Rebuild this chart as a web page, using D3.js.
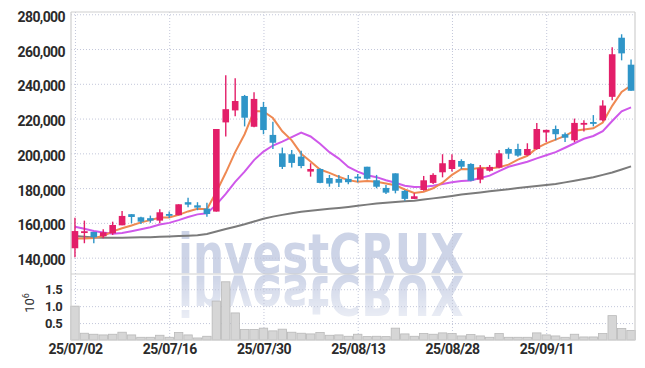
<!DOCTYPE html>
<html><head><meta charset="utf-8">
<script src="https://cdn.jsdelivr.net/npm/d3@7"></script>
<style>
html,body{margin:0;padding:0;background:#fff;}
svg{display:block;}
.lbl{font-family:Roboto,"Noto Sans",sans-serif;font-weight:700;fill:#2b2b2b;}
</style>
</head><body>
<script>
// ---- data ----
const dates = ["25/07/02","25/07/03","25/07/04","25/07/07","25/07/08","25/07/09","25/07/10","25/07/11","25/07/14","25/07/15",
"25/07/16","25/07/17","25/07/18","25/07/21","25/07/22","25/07/23","25/07/24","25/07/25","25/07/28","25/07/29",
"25/07/30","25/07/31","25/08/01","25/08/04","25/08/05","25/08/06","25/08/07","25/08/08","25/08/11","25/08/12",
"25/08/13","25/08/14","25/08/18","25/08/19","25/08/20","25/08/21","25/08/22","25/08/25","25/08/26","25/08/27",
"25/08/28","25/08/29","25/09/01","25/09/02","25/09/03","25/09/04","25/09/05","25/09/08","25/09/09","25/09/10",
"25/09/11","25/09/12","25/09/15","25/09/16","25/09/17","25/09/18","25/09/19","25/09/22","25/09/23","25/09/24"];
const opens  = [145400,154600,154800,152300,154000,158600,165000,163200,162700,161300,
165100,164400,171900,170100,168200,166500,217800,224700,233000,215300,
226700,210600,200000,199500,198100,189500,191000,185800,185300,185300,
186600,192300,184500,180100,188500,178400,173800,178900,183000,189100,
191000,195600,193900,184900,190000,191800,202500,202500,199000,202500,
212000,214000,211000,207500,216500,218000,219000,232500,266500,251000];
const highs  = [163000,161300,154800,156300,160700,166900,165000,163600,164200,167800,
166500,170700,174500,171900,171600,214000,244900,243200,233600,235100,
229600,218200,203300,201900,201500,194300,191400,187600,187600,187600,
188100,192300,187600,181800,188500,178900,177000,187000,188500,199500,
199500,196600,194300,193300,193300,201900,203300,205500,205800,217500,
213500,216000,212000,220000,219000,222000,230500,261000,268500,254000];
const lows   = [140200,148300,148300,151200,153100,158600,159800,159400,160100,159800,
162800,164400,169000,167300,163600,166500,209700,221300,215500,215000,
211000,202500,191000,191800,191400,186600,182800,180800,180700,182200,
183400,185000,179900,176600,177000,172800,173800,178500,182400,186200,
189500,191000,184000,182800,189500,191400,196800,198100,198700,202000,
206500,207500,206500,206500,212500,215500,218500,230500,253500,236000];
const closes = [155300,155200,151700,154600,158800,164000,163400,160700,161300,166100,
164200,170700,170500,168800,165100,214000,225400,230100,220500,231300,
213400,206100,192200,194500,192700,191000,183000,182600,183100,183400,
186000,185400,180800,177400,178500,173800,175300,184500,187600,194300,
196200,192300,184300,191400,192200,200000,199800,198700,202500,214000,
213500,211000,209000,217500,217500,217000,227500,257000,257500,236000];
const ma5  = [151000,151000,151300,152500,155100,156900,158500,160300,161600,163100,
163100,164600,166600,168100,167900,177800,188800,200700,211000,224300,
224100,220300,212700,207500,199800,195300,190700,188800,186500,184600,
183600,184100,183700,182600,181600,179200,177200,177900,179900,183100,
187600,191000,190900,191700,191300,192000,193500,196400,198600,203000,
205700,207900,210000,213000,213700,214400,217700,227300,235300,239000];
const ma10 = [157800,156600,155300,154500,153700,154200,155200,156300,157500,159100,
160000,161600,163400,164900,165500,170500,176700,183600,189500,196100,
201000,204500,206700,209300,212000,209700,205500,200700,197000,192200,
189500,187400,186300,184500,183100,181400,180600,180800,181300,182400,
183400,184100,184400,185800,187200,189800,192300,193700,195200,197100,
198900,200700,203200,205800,208400,210000,212800,218600,224200,226400];
const ma60 = [152500,152000,151600,151500,151500,151500,151600,151700,151800,152000,
152200,152400,152600,152900,153600,155000,156500,157800,159200,160800,
162400,163600,164600,165500,166400,167000,167600,168100,168600,169200,
169800,170500,171100,171600,172000,172400,172800,173400,174100,174800,
175500,176300,176900,177500,178200,178800,179400,180000,180600,181200,
181800,182400,183300,184200,185200,186200,187600,189000,190700,192500];
const volumes = [1000000,200000,170000,150000,170000,230000,150000,80000,80000,140000,
80000,220000,150000,60000,110000,1150000,1720000,800000,310000,310000,
350000,270000,320000,230000,200000,180000,220000,140000,150000,110000,
170000,100000,110000,100000,350000,180000,110000,190000,170000,210000,
190000,120000,160000,120000,80000,190000,80000,80000,80000,210000,
150000,120000,80000,170000,90000,90000,190000,720000,340000,280000];
const priceTicks = [140000,160000,180000,200000,220000,240000,260000,280000];
const volumeTicks = [500000,1000000,1500000];
const dateTickIdx = [0,10,20,30,40,50];

// ---- layout ----
const W=645,H=368, L=71, R=635, T=12, SEP=274, B=340;
const UP="#e31e69", DOWN="#2f95c8";
const svg=d3.select("body").append("svg").attr("width",W).attr("height",H);
const idx=d3.range(dates.length);
const x=d3.scaleLinear().domain([-0.42, dates.length-1+0.42]).range([L,R]);
const yP=d3.scaleLinear().domain([130600,281300]).range([SEP,T]);
const yV=d3.scaleLinear().domain([0,1950000]).range([B,SEP]);
const step=x(1)-x(0);

// watermark with reflection
const defs=svg.append("defs");
const g1=defs.append("linearGradient").attr("id","fadeGrad").attr("gradientUnits","userSpaceOnUse")
  .attr("x1",0).attr("y1",SEP).attr("x2",0).attr("y2",SEP+44);
g1.append("stop").attr("offset","0%").attr("stop-color","#ffffff");
g1.append("stop").attr("offset","100%").attr("stop-color","#6a6a6a");
defs.append("mask").attr("id","fadeMask").attr("maskUnits","userSpaceOnUse")
  .attr("x",0).attr("y",SEP).attr("width",W).attr("height",60)
  .append("rect").attr("x",0).attr("y",SEP).attr("width",W).attr("height",60).attr("fill","url(#fadeGrad)");
const wm=svg.append("g");
wm.append("text").attr("id","wmText").attr("x",178).attr("y",273).attr("textLength",286).attr("lengthAdjust","spacingAndGlyphs")
  .style("font-family","'DejaVu Sans',sans-serif").style("font-weight",700).style("font-size","56px")
  .attr("fill","#cdd4e7").text("investCRUX");
wm.append("g").attr("mask","url(#fadeMask)")
  .append("use").attr("href","#wmText").attr("transform",`translate(0,${2*SEP+1}) scale(1,-1)`);

// grid + axes
const gridColor="#c3c7da";
const axP=svg.append("g").attr("transform",`translate(${L},0)`)
  .call(d3.axisLeft(yP).tickValues(priceTicks).tickFormat(d3.format(",")).tickSize(-(R-L)).tickPadding(6));
const axV=svg.append("g").attr("transform",`translate(${L},0)`)
  .call(d3.axisLeft(yV).tickValues(volumeTicks).tickFormat(d=>(d/1e6).toFixed(1)).tickSize(-(R-L)).tickPadding(9));
const axX=svg.append("g").attr("transform",`translate(0,${B})`)
  .call(d3.axisBottom(x).tickValues(dateTickIdx).tickFormat(i=>dates[i]).tickSize(-(B-T)).tickPadding(4));
[axP,axV,axX].forEach(a=>{
  a.select(".domain").remove();
  a.selectAll(".tick line").attr("stroke",gridColor).attr("stroke-dasharray","1,2").attr("stroke-width",1);
  a.selectAll(".tick text").attr("class","lbl").style("font-size","14px").style("letter-spacing","-0.6px");
});
axV.selectAll(".tick text").style("font-size","13px");
axP.selectAll(".tick text").attr("dy","0.5em");

svg.append("text").attr("class","lbl").attr("transform","translate(34,303) rotate(-90)")
  .attr("text-anchor","middle").style("font-size","13px").style("font-weight",400)
  .html('10<tspan dy="-5" style="font-size:9px">6</tspan>');

// volume bars
svg.append("g").selectAll("rect").data(idx).join("rect")
  .attr("x",i=>x(i)-step/2+0.5).attr("width",step-1)
  .attr("y",i=>yV(volumes[i])).attr("height",i=>B-yV(volumes[i]))
  .attr("fill","#d6d6d6").attr("stroke","#b9b9b9").attr("stroke-width",0.8);

// borders
const frame=svg.append("g").attr("stroke","#cfcfcf").attr("stroke-width",1.2).attr("fill","none");
frame.append("line").attr("x1",L).attr("x2",R).attr("y1",T).attr("y2",T);
frame.append("line").attr("x1",L).attr("x2",L).attr("y1",T).attr("y2",B);
frame.append("line").attr("x1",R).attr("x2",R).attr("y1",T).attr("y2",B);
frame.append("line").attr("x1",L).attr("x2",R).attr("y1",SEP).attr("y2",SEP);
frame.append("line").attr("x1",L).attr("x2",R).attr("y1",B).attr("y2",B);

// moving averages
const line=arr=>d3.line().x(i=>x(i)).y(i=>yP(arr[i]))(idx);
svg.append("path").attr("d",line(ma60)).attr("fill","none").attr("stroke","#7b7b7b").attr("stroke-width",2);
svg.append("path").attr("d",line(ma10)).attr("fill","none").attr("stroke","#cf58ea").attr("stroke-width",2);
svg.append("path").attr("d",line(ma5)).attr("fill","none").attr("stroke","#ef8952").attr("stroke-width",2);

// candles
const cg=svg.append("g");
const col=i=>closes[i]>=opens[i]?UP:DOWN;
cg.selectAll("line").data(idx).join("line")
  .attr("x1",i=>x(i)).attr("x2",i=>x(i)).attr("y1",i=>yP(highs[i])).attr("y2",i=>yP(lows[i]))
  .attr("stroke",col).attr("stroke-width",1.4);
const bw=6.6;
cg.selectAll("rect").data(idx).join("rect")
  .attr("x",i=>x(i)-bw/2).attr("width",bw)
  .attr("y",i=>yP(Math.max(opens[i],closes[i])))
  .attr("height",i=>Math.max(1.8,Math.abs(yP(opens[i])-yP(closes[i]))))
  .attr("fill",col);
</script>
</body></html>
